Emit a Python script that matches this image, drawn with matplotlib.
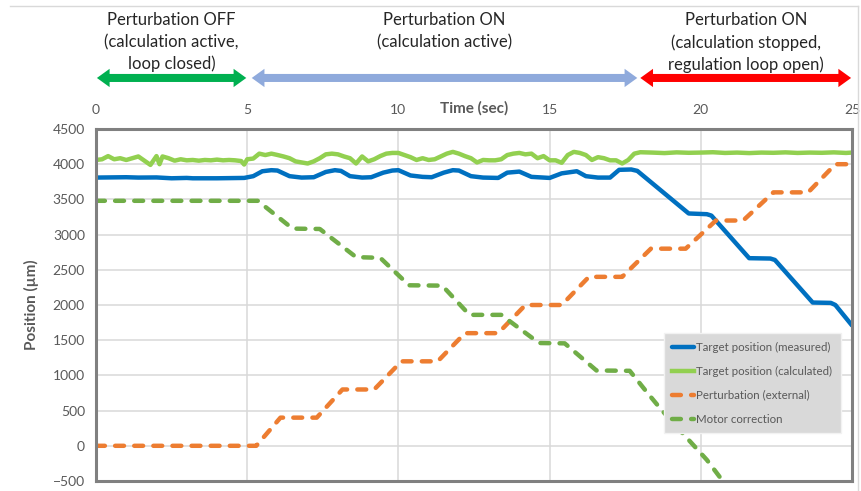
import matplotlib.pyplot as plt
import matplotlib.transforms as mtransforms
from matplotlib.patches import Polygon
from matplotlib.lines import Line2D

plt.rcParams['font.family'] = ['Lato', 'DejaVu Sans']

# target position, measured (µm)
meas_t = [0, 1.0, 1.4, 2.0, 2.5, 3.0, 3.2, 4.0, 4.9, 5.2, 5.5, 5.8, 6.0, 6.4, 6.8, 7.2,
          7.6, 7.9, 8.1, 8.4, 8.8, 9.1, 9.5, 9.8, 10.0, 10.4, 10.8, 11.1, 11.5, 11.8,
          12.0, 12.4, 12.8, 13.3, 13.6, 14.0, 14.4, 15.0, 15.4, 15.9, 16.2, 16.6, 17.0,
          17.3, 17.7, 17.9, 19.6, 20.2, 20.35, 21.6, 22.3, 22.45, 23.7, 24.3, 24.45, 25.0]
meas_pos = [3810, 3815, 3810, 3812, 3800, 3805, 3800, 3800, 3805, 3830, 3900, 3915, 3910, 3830, 3810, 3815,
            3890, 3915, 3905, 3830, 3810, 3815, 3880, 3910, 3915, 3840, 3820, 3815, 3880, 3915,
            3910, 3830, 3810, 3805, 3880, 3895, 3820, 3805, 3870, 3900, 3830, 3810, 3810,
            3920, 3925, 3905, 3300, 3290, 3270, 2665, 2660, 2640, 2035, 2030, 2000, 1710]

# target position, calculated (µm)
calc_t = [0, 0.2, 0.4, 0.6, 0.8, 1.0, 1.2, 1.4, 1.6, 1.8, 2.0, 2.1, 2.2, 2.4, 2.6, 2.8,
          3.0, 3.2, 3.4, 3.6, 3.8, 4.0, 4.2, 4.4, 4.6, 4.8, 4.9, 5.0, 5.2, 5.4, 5.6, 5.8,
          6.0, 6.2, 6.4, 6.6, 6.8, 7.0, 7.2, 7.4, 7.6, 7.8, 8.0, 8.2, 8.4, 8.6, 8.8, 9.0,
          9.2, 9.4, 9.6, 9.8, 10.0, 10.2, 10.4, 10.6, 10.8, 11.0, 11.2, 11.4, 11.6, 11.8,
          12.0, 12.2, 12.4, 12.6, 12.8, 13.0, 13.2, 13.4, 13.6, 13.8, 14.0, 14.2, 14.4,
          14.6, 14.8, 15.0, 15.2, 15.4, 15.6, 15.8, 16.0, 16.2, 16.4, 16.6, 16.8, 17.0,
          17.2, 17.4, 17.6, 17.8, 18.0, 18.4, 18.8, 19.2, 19.6, 20.0, 20.4, 20.8, 21.2,
          21.6, 22.0, 22.4, 22.8, 23.2, 23.6, 24.0, 24.4, 24.8, 25.0]
calc_pos = [4060, 4070, 4115, 4070, 4085, 4060, 4085, 4110, 4050, 3990, 4115, 4000, 4110, 4085, 4050, 4070,
            4055, 4060, 4050, 4060, 4055, 4065, 4055, 4060, 4055, 4045, 3995, 4070, 4080, 4150, 4130, 4150,
            4131, 4110, 4085, 4040, 4025, 4010, 4040, 4085, 4140, 4150, 4140, 4110, 4085, 4010, 4110, 4040,
            4070, 4115, 4150, 4160, 4160, 4130, 4100, 4060, 4085, 4060, 4070, 4110, 4150, 4175,
            4150, 4115, 4085, 4025, 4060, 4055, 4055, 4070, 4130, 4150, 4160, 4140, 4150,
            4085, 4115, 4055, 4055, 4020, 4130, 4175, 4160, 4130, 4060, 4100, 4085, 4055,
            4055, 4010, 4060, 4150, 4170, 4165, 4158, 4168, 4162, 4165, 4170, 4160, 4165,
            4158, 4165, 4162, 4168, 4160, 4165, 4162, 4168, 4160, 4165]

# external perturbation (µm)
pert_t = [0, 5.3, 6.1, 7.3, 8.15, 9.2, 10.1, 11.3, 12.2, 13.3, 14.2, 15.4, 16.3, 17.4,
          18.35, 19.5, 20.5, 21.4, 22.4, 23.55, 24.45, 25]
pert_pos = [0, 0, 400, 400, 800, 800, 1200, 1200, 1600, 1600, 2000, 2000, 2400, 2400,
            2800, 2800, 3200, 3200, 3600, 3600, 4000, 4000]

# motor correction (µm)
motor_t = [0, 5.35, 6.5, 7.4, 8.6, 9.4, 10.35, 11.45, 12.35, 13.4, 14.65, 15.5, 16.55,
           17.65, 18.2, 18.7, 19.5, 20.2, 20.7, 21.2]
motor_pos = [3480, 3480, 3085, 3080, 2680, 2670, 2280, 2275, 1860, 1860, 1460, 1455, 1070,
             1065, 770, 510, 130, -200, -485, -780]

phase_spans = [(0.03, 4.97), (5.15, 17.9), (18.0, 24.97)]
phase_colors = ['#00B050', '#8FAADC', '#FF0000']
phase_labels = ['Perturbation OFF\n(calculation active,\nloop closed)',
                'Perturbation ON\n(calculation active)',
                'Perturbation ON\n(calculation stopped,\nregulation loop open)']

fig = plt.figure(figsize=(8.61, 4.91), dpi=100)
ax = fig.add_axes([96 / 861, 10 / 491, 756 / 861, 352 / 491])

ax.plot(meas_t, meas_pos, color='#0070C0', lw=3.2, solid_joinstyle='round',
        solid_capstyle='round', label='Target position (measured)')
ax.plot(calc_t, calc_pos, color='#92D050', lw=3.2, solid_joinstyle='round',
        label='Target position (calculated)')
ax.plot(pert_t, pert_pos, color='#ED7D31', lw=3.2, dashes=(2.0, 2.3),
        dash_capstyle='round', dash_joinstyle='round', label='Perturbation (external)')
ax.plot(motor_t, motor_pos, color='#70AD47', lw=3.2, dashes=(2.0, 2.3),
        dash_capstyle='round', dash_joinstyle='round', label='Motor correction')

ax.set_xlim(0, 25)
ax.set_ylim(-500, 4500)
ax.set_xticks(range(0, 26, 5))
ax.set_yticks(range(-500, 4501, 500))
ax.xaxis.tick_top()
ax.tick_params(length=0, colors='#595959', labelsize=10)
ax.tick_params(axis='x', pad=9.5)
ax.tick_params(axis='y', pad=8)
ax.grid(color='#D9D9D9', lw=1.1)
ax.set_axisbelow(True)
for s in ax.spines.values():
    s.set_color('#808080')
    s.set_linewidth(2.2)

ax.set_ylabel('Position (µm)', fontweight='bold', color='#595959', fontsize=11, labelpad=10)
ax.text(0.5, 1.06, 'Time (sec)', transform=ax.transAxes, ha='center', va='center',
        fontweight='bold', color='#595959', fontsize=11)

leg = ax.legend(loc='upper left', bbox_to_anchor=(0.751, 0.42), borderaxespad=0,
                fontsize=8.3, labelcolor='#595959', facecolor='#D9D9D9', edgecolor='#F2F2F2',
                framealpha=1, fancybox=False, handlelength=1.9, handletextpad=0.15,
                labelspacing=1.12, borderpad=0.75)
leg.set_zorder(10)

# phase arrows above the plot
trans = mtransforms.blended_transform_factory(ax.transData, ax.transAxes)
y_arr = 1.145
shaft = 0.0114
head_w = 0.026
head_l = 0.42
for (x0, x1), c, txt in zip(phase_spans, phase_colors, phase_labels):
    pts = [(x0, y_arr), (x0 + head_l, y_arr + head_w), (x0 + head_l, y_arr + shaft),
           (x1 - head_l, y_arr + shaft), (x1 - head_l, y_arr + head_w), (x1, y_arr),
           (x1 - head_l, y_arr - head_w), (x1 - head_l, y_arr - shaft),
           (x0 + head_l, y_arr - shaft), (x0 + head_l, y_arr - head_w)]
    ax.add_patch(Polygon(pts, closed=True, facecolor=c, edgecolor='none',
                         transform=trans, clip_on=False))
    ax.text((x0 + x1) / 2, 1.331, txt, transform=trans, ha='center', va='top',
            fontsize=12, linespacing=1.42, color='#262626')

# chart border
fig.add_artist(Line2D([10 / 861, 858 / 861], [1 - 6 / 491, 1 - 6 / 491],
                      transform=fig.transFigure, color='#D9D9D9', lw=1))
fig.add_artist(Line2D([858 / 861, 858 / 861], [0, 1 - 6 / 491],
                      transform=fig.transFigure, color='#D9D9D9', lw=1))

plt.savefig('out.png', dpi=100)
